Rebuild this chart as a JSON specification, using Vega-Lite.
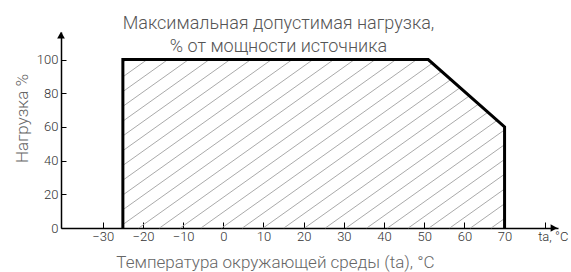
{
  "$schema": "https://vega.github.io/schema/vega-lite/v6.json",
  "width": 497,
  "height": 196,
  "autosize": {"type": "none"},
  "padding": {"left": 61, "top": 32, "right": 13, "bottom": 44},
  "background": "white",
  "config": {
    "view": {"stroke": null},
    "font": "Roboto",
    "axis": {"labelOverlap": false, "labelBound": false, "labelFlush": false},
    "axisY": {"labelOverlap": false},
    "axisQuantitative": {"labelOverlap": false}
  },
  "title": {
    "text": ["Максимальная допустимая нагрузка,", "% от мощности источника"],
    "font": "Roboto",
    "fontSize": 18,
    "fontWeight": 300,
    "color": "#555555",
    "lineHeight": 23,
    "anchor": "middle",
    "dx": -31,
    "offset": -42,
    "baseline": "bottom"
  },
  "datasets": {
    "outline": [
      {"i": 1, "x": -25, "y": 0},
      {"i": 2, "x": -25, "y": 100},
      {"i": 3, "x": 51, "y": 100},
      {"i": 4, "x": 70, "y": 60},
      {"i": 5, "x": 70, "y": 0}
    ],
    "hatch": [
      {"x": -25, "y": 98.53, "x2": -24.14, "y2": 100},
      {"x": -25, "y": 89.76, "x2": -18.98, "y2": 100},
      {"x": -25, "y": 80.99, "x2": -13.82, "y2": 100},
      {"x": -25, "y": 72.22, "x2": -8.66, "y2": 100},
      {"x": -25, "y": 63.44, "x2": -3.5, "y2": 100},
      {"x": -25, "y": 54.67, "x2": 1.66, "y2": 100},
      {"x": -25, "y": 45.9, "x2": 6.82, "y2": 100},
      {"x": -25, "y": 37.13, "x2": 11.98, "y2": 100},
      {"x": -25, "y": 28.36, "x2": 17.14, "y2": 100},
      {"x": -25, "y": 19.58, "x2": 22.3, "y2": 100},
      {"x": -25, "y": 10.81, "x2": 27.46, "y2": 100},
      {"x": -25, "y": 2.04, "x2": 32.62, "y2": 100},
      {"x": -21.04, "y": 0, "x2": 37.78, "y2": 100},
      {"x": -15.88, "y": 0, "x2": 42.94, "y2": 100},
      {"x": -10.72, "y": 0, "x2": 48.1, "y2": 100},
      {"x": -5.56, "y": 0, "x2": 52.02, "y2": 97.88},
      {"x": -0.4, "y": 0, "x2": 54.32, "y2": 93.03},
      {"x": 4.76, "y": 0, "x2": 56.63, "y2": 88.18},
      {"x": 9.92, "y": 0, "x2": 58.93, "y2": 83.32},
      {"x": 15.08, "y": 0, "x2": 61.24, "y2": 78.47},
      {"x": 20.24, "y": 0, "x2": 63.54, "y2": 73.61},
      {"x": 25.4, "y": 0, "x2": 65.85, "y2": 68.76},
      {"x": 30.56, "y": 0, "x2": 68.15, "y2": 63.91},
      {"x": 35.72, "y": 0, "x2": 70, "y2": 58.28},
      {"x": 40.88, "y": 0, "x2": 70, "y2": 49.5},
      {"x": 46.04, "y": 0, "x2": 70, "y2": 40.73},
      {"x": 51.2, "y": 0, "x2": 70, "y2": 31.96},
      {"x": 56.36, "y": 0, "x2": 70, "y2": 23.19},
      {"x": 61.52, "y": 0, "x2": 70, "y2": 14.42},
      {"x": 66.68, "y": 0, "x2": 70, "y2": 5.64}
    ],
    "arrows": [
      {"x": -40.4, "y": 114.6, "shape": "triangle-up"},
      {"x": 82.3, "y": 0, "shape": "triangle-right"}
    ]
  },
  "encoding": {
    "x": {
      "field": "x",
      "type": "quantitative",
      "scale": {"domain": [-40.4, 83.3], "nice": false, "zero": false},
      "axis": {
        "title": "Температура окружающей среды (ta), °C",
        "titleFont": "Roboto",
        "titleFontSize": 17,
        "titleFontWeight": 300,
        "titleColor": "#666666",
        "titleX": 214,
        "titleY": 34,
        "titleBaseline": "middle",
        "titleAlign": "center",
        "values": [-30, -20, -10, 0, 10, 20, 30, 40, 50, 60, 70, 80],
        "labelExpr": "datum.value == 80 ? 'ta, °C' : datum.label",
        "labelOffset": {"condition": {"test": "datum.value == 80", "value": 8}, "value": 0},
        "labelOverlap": false,
        "labelFont": "Roboto",
        "labelFontWeight": 300,
        "labelFontSize": 13,
        "labelColor": "#333333",
        "labelPadding": 8,
        "tickSize": -6,
        "tickColor": "black",
        "tickWidth": 1,
        "domainColor": "black",
        "domainWidth": 1.5,
        "grid": false
      }
    },
    "y": {
      "field": "y",
      "type": "quantitative",
      "scale": {"domain": [0, 116.4], "nice": false, "zero": false},
      "axis": {
        "title": "Нагрузка %",
        "titleFont": "Roboto",
        "titleFontSize": 17,
        "titleFontWeight": 300,
        "titleColor": "#666666",
        "titleX": -39,
        "titleY": 86,
        "titleBaseline": "middle",
        "titleAlign": "center",
        "titleAngle": -90,
        "values": [0, 20, 40, 60, 80, 100],
        "labelOverlap": false,
        "labelSeparation": -20,
        "labelFont": "Roboto",
        "labelFontWeight": 300,
        "labelFontSize": 13,
        "labelColor": "#333333",
        "labelPadding": 8,
        "tickSize": -5,
        "tickColor": "black",
        "tickWidth": 1,
        "domainColor": "black",
        "domainWidth": 1.5,
        "grid": false
      }
    }
  },
  "layer": [
    {
      "data": {"name": "hatch"},
      "mark": {"type": "rule", "stroke": "#aaaaaa", "strokeWidth": 1},
      "encoding": {
        "x2": {"field": "x2"},
        "y2": {"field": "y2"}
      }
    },
    {
      "data": {"name": "outline"},
      "mark": {"type": "line", "color": "black", "strokeWidth": 3, "strokeJoin": "miter", "strokeCap": "butt"},
      "encoding": {
        "order": {"field": "i", "type": "quantitative"}
      }
    },
    {
      "data": {"name": "arrows"},
      "mark": {"type": "point", "filled": true, "color": "black", "size": 60, "opacity": 1},
      "encoding": {
        "shape": {"field": "shape", "type": "nominal", "scale": null}
      }
    }
  ]
}
